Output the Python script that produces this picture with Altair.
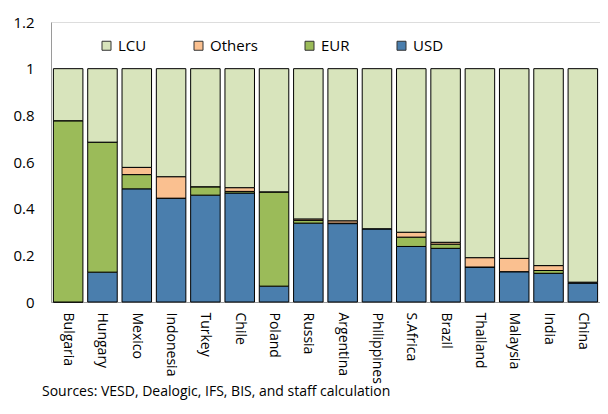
import altair as alt
import pandas as pd

countries = ["Bulgaria", "Hungary", "Mexico", "Indonesia", "Turkey", "Chile", "Poland",
             "Russia", "Argentina", "Philippines", "S.Africa", "Brazil", "Thailand",
             "Malaysia", "India", "China"]
usd = [0.0, 0.128, 0.485, 0.445, 0.458, 0.467, 0.068, 0.338, 0.336, 0.314, 0.238, 0.230,
       0.150, 0.130, 0.123, 0.082]
eur = [0.777, 0.557, 0.061, 0.0, 0.036, 0.007, 0.404, 0.012, 0.002, 0.0, 0.040, 0.018,
       0.0, 0.0, 0.012, 0.0]
others = [0.0, 0.0, 0.031, 0.092, 0.0, 0.016, 0.0, 0.006, 0.010, 0.0, 0.021, 0.008,
          0.040, 0.057, 0.021, 0.003]
lcu = [0.223, 0.315, 0.423, 0.463, 0.506, 0.510, 0.528, 0.644, 0.652, 0.686, 0.701, 0.744,
       0.810, 0.813, 0.844, 0.915]

series = ["LCU", "Others", "EUR", "USD"]
colors = ["#D8E4BC", "#FAC090", "#9BBB59", "#4A7EAD"]
stack_rank = {"USD": 0, "EUR": 1, "Others": 2, "LCU": 3}
source_note = "Sources: VESD, Dealogic, IFS, BIS, and staff calculation"

rows = []
for name, vals in [("USD", usd), ("EUR", eur), ("Others", others), ("LCU", lcu)]:
    for c, v in zip(countries, vals):
        rows.append({"country": c, "series": name, "value": v, "rank": stack_rank[name]})
df = pd.DataFrame(rows)

FONT = "Open Sans"
FS = 15

bars = alt.Chart(df).mark_bar(stroke="#000000", strokeWidth=1).encode(
    x=alt.X("country:N", sort=countries,
            scale=alt.Scale(paddingInner=0.14, paddingOuter=0.07),
            axis=alt.Axis(title=None, labelAngle=90, labelAlign="left", labelBaseline="middle",
                          labelPadding=10, ticks=False, domainColor="#9A9A9A",
                          labelFontSize=14, labelColor="#000000", labelFont=FONT)),
    y=alt.Y("value:Q", stack="zero",
            scale=alt.Scale(domain=[0, 1.2], nice=False),
            axis=alt.Axis(title=None, values=[0, 0.2, 0.4, 0.6, 0.8, 1.0, 1.2], format="~g",
                          grid=False, ticks=False, labelPadding=17, domainColor="#9A9A9A",
                          labelFontSize=FS, labelColor="#000000", labelFont=FONT)),
    color=alt.Color("series:N", scale=alt.Scale(domain=series, range=colors),
                    legend=alt.Legend(title=None, orient="none", direction="horizontal",
                                      legendX=48, legendY=16, symbolType="square",
                                      symbolSize=81, symbolStrokeColor="#333333",
                                      symbolStrokeWidth=1, symbolOpacity=1,
                                      columnPadding=44, labelOffset=4,
                                      labelFontSize=FS, labelFont=FONT, labelColor="#000000")),
    order=alt.Order("rank:Q", sort="ascending"),
)

note = alt.Chart(pd.DataFrame({"t": [source_note]})).mark_text(
    align="left", baseline="alphabetic", fontSize=14, font=FONT, color="#000000"
).encode(x=alt.value(-9), y=alt.value(374), text="t:N")

chart = alt.layer(bars, note).properties(
    width=549, height=280,
    autosize=alt.AutoSizeParams(type="none"),
    padding={"left": 43, "top": 14, "right": 0, "bottom": 98},
).configure_view(stroke="#D0D0D0").configure(font=FONT)

chart.save("out.html", embed_options={"renderer": "svg", "actions": False})
